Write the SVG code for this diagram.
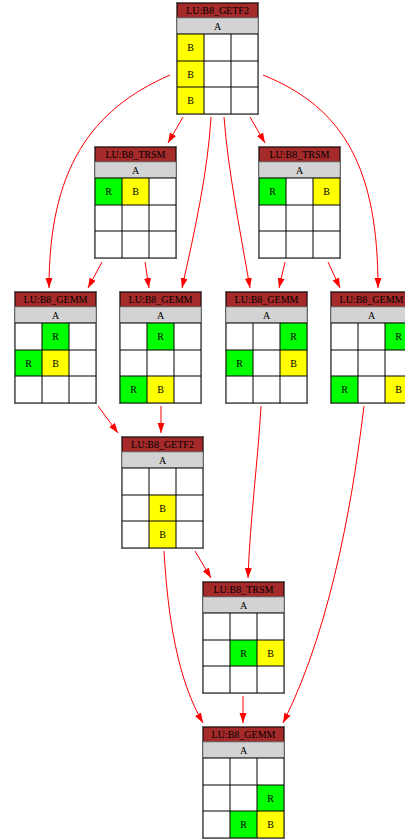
<svg xmlns="http://www.w3.org/2000/svg" xmlns:xlink="http://www.w3.org/1999/xlink" width="405" height="839" viewBox="0 0 405 839">
<style>
text{font-family:"Liberation Serif","Times New Roman",serif;font-size:10px;text-anchor:middle;fill:#000}
.edge{fill:none;stroke:#ff0000;stroke-width:1}
.R{fill:#00ff00}
.B{fill:#ffff00}
</style>
<defs>
<marker id="arr" markerUnits="userSpaceOnUse" markerWidth="10" markerHeight="8" refX="10" refY="3.5" orient="auto">
<path d="M0,0 L10,3.5 L0,7 z" fill="#ff0000"/>
</marker>
<g id="frame">
<rect x="0" y="0" width="81" height="15" fill="#a52a2a" stroke="#000" stroke-width="1"/>
<rect x="0" y="15" width="81" height="16" fill="#d3d3d3" stroke="#999" stroke-width="1"/>
<rect x="0" y="31" width="81" height="80" fill="#fff"/>
</g>
<g id="grid">
<path d="M0,31H81M0,58H81M0,84H81M0,111H81M0,31V111M27,31V111M54,31V111M81,31V111" fill="none" stroke="#000" stroke-width="1"/>
<rect x="-0.5" y="-0.5" width="82" height="112" fill="none" stroke="#666" stroke-width="1"/>
</g>
</defs>
<rect width="405" height="839" fill="#fff"/>
<g id="edges">
<path class="edge" marker-end="url(#arr)" d="M183,117 L168,143"/>
<path class="edge" marker-end="url(#arr)" d="M250,117 L265,143"/>
<path class="edge" marker-end="url(#arr)" d="M170,75 C90,110 49,170 49,288"/>
<path class="edge" marker-end="url(#arr)" d="M211,117 C208,170 195,230 182,288"/>
<path class="edge" marker-end="url(#arr)" d="M224,117 C228,170 240,230 250,288"/>
<path class="edge" marker-end="url(#arr)" d="M263,75 C345,108 378,170 378,288"/>
<path class="edge" marker-end="url(#arr)" d="M102,262 L88,288"/>
<path class="edge" marker-end="url(#arr)" d="M145,262 L149,288"/>
<path class="edge" marker-end="url(#arr)" d="M285,262 L279,288"/>
<path class="edge" marker-end="url(#arr)" d="M328,262 L340,288"/>
<path class="edge" marker-end="url(#arr)" d="M98,406 L118,433"/>
<path class="edge" marker-end="url(#arr)" d="M161,406 L161,433"/>
<path class="edge" marker-end="url(#arr)" d="M261,406 C258,460 250,520 248,578"/>
<path class="edge" marker-end="url(#arr)" d="M195,551 L211,578"/>
<path class="edge" marker-end="url(#arr)" d="M164,551 C168,620 178,680 203,723"/>
<path class="edge" marker-end="url(#arr)" d="M243,696 L243,723"/>
<path class="edge" marker-end="url(#arr)" d="M364,406 C355,480 335,620 283,723"/>
</g>
<g id="n1" transform="translate(177,3)">
<use xlink:href="#frame"/>
<rect class="B" x="0" y="31" width="27" height="27"/><rect class="B" x="0" y="58" width="27" height="26"/><rect class="B" x="0" y="84" width="27" height="27"/>
<use xlink:href="#grid"/>
<text x="40.5" y="11">LU:B8_GETF2</text><text x="40.5" y="27">A</text>
<text x="13.5" y="48">B</text><text x="13.5" y="74.5">B</text><text x="13.5" y="101">B</text>
</g>
<g id="n2" transform="translate(95,147)">
<use xlink:href="#frame"/>
<rect class="R" x="0" y="31" width="27" height="27"/><rect class="B" x="27" y="31" width="27" height="27"/>
<use xlink:href="#grid"/>
<text x="40.5" y="11">LU:B8_TRSM</text><text x="40.5" y="27">A</text>
<text x="13.5" y="48">R</text><text x="40.5" y="48">B</text>
</g>
<g id="n3" transform="translate(259,147)">
<use xlink:href="#frame"/>
<rect class="R" x="0" y="31" width="27" height="27"/><rect class="B" x="54" y="31" width="27" height="27"/>
<use xlink:href="#grid"/>
<text x="40.5" y="11">LU:B8_TRSM</text><text x="40.5" y="27">A</text>
<text x="13.5" y="48">R</text><text x="67.5" y="48">B</text>
</g>
<g id="n4" transform="translate(15,292)">
<use xlink:href="#frame"/>
<rect class="R" x="27" y="31" width="27" height="27"/><rect class="R" x="0" y="58" width="27" height="26"/><rect class="B" x="27" y="58" width="27" height="26"/>
<use xlink:href="#grid"/>
<text x="40.5" y="11">LU:B8_GEMM</text><text x="40.5" y="27">A</text>
<text x="40.5" y="48">R</text><text x="13.5" y="74.5">R</text><text x="40.5" y="74.5">B</text>
</g>
<g id="n5" transform="translate(120,292)">
<use xlink:href="#frame"/>
<rect class="R" x="27" y="31" width="27" height="27"/><rect class="R" x="0" y="84" width="27" height="27"/><rect class="B" x="27" y="84" width="27" height="27"/>
<use xlink:href="#grid"/>
<text x="40.5" y="11">LU:B8_GEMM</text><text x="40.5" y="27">A</text>
<text x="40.5" y="48">R</text><text x="13.5" y="101">R</text><text x="40.5" y="101">B</text>
</g>
<g id="n6" transform="translate(226,292)">
<use xlink:href="#frame"/>
<rect class="R" x="54" y="31" width="27" height="27"/><rect class="R" x="0" y="58" width="27" height="26"/><rect class="B" x="54" y="58" width="27" height="26"/>
<use xlink:href="#grid"/>
<text x="40.5" y="11">LU:B8_GEMM</text><text x="40.5" y="27">A</text>
<text x="67.5" y="48">R</text><text x="13.5" y="74.5">R</text><text x="67.5" y="74.5">B</text>
</g>
<g id="n7" transform="translate(331,292)">
<use xlink:href="#frame"/>
<rect class="R" x="54" y="31" width="27" height="27"/><rect class="R" x="0" y="84" width="27" height="27"/><rect class="B" x="54" y="84" width="27" height="27"/>
<use xlink:href="#grid"/>
<text x="40.5" y="11">LU:B8_GEMM</text><text x="40.5" y="27">A</text>
<text x="67.5" y="48">R</text><text x="13.5" y="101">R</text><text x="67.5" y="101">B</text>
</g>
<g id="n8" transform="translate(122,437)">
<use xlink:href="#frame"/>
<rect class="B" x="27" y="58" width="27" height="26"/><rect class="B" x="27" y="84" width="27" height="27"/>
<use xlink:href="#grid"/>
<text x="40.5" y="11">LU:B8_GETF2</text><text x="40.5" y="27">A</text>
<text x="40.5" y="74.5">B</text><text x="40.5" y="101">B</text>
</g>
<g id="n9" transform="translate(203,582)">
<use xlink:href="#frame"/>
<rect class="R" x="27" y="58" width="27" height="26"/><rect class="B" x="54" y="58" width="27" height="26"/>
<use xlink:href="#grid"/>
<text x="40.5" y="11">LU:B8_TRSM</text><text x="40.5" y="27">A</text>
<text x="40.5" y="74.5">R</text><text x="67.5" y="74.5">B</text>
</g>
<g id="n10" transform="translate(203,727)">
<use xlink:href="#frame"/>
<rect class="R" x="54" y="58" width="27" height="26"/><rect class="R" x="27" y="84" width="27" height="27"/><rect class="B" x="54" y="84" width="27" height="27"/>
<use xlink:href="#grid"/>
<text x="40.5" y="11">LU:B8_GEMM</text><text x="40.5" y="27">A</text>
<text x="67.5" y="74.5">R</text><text x="40.5" y="101">R</text><text x="67.5" y="101">B</text>
</g>
</svg>
